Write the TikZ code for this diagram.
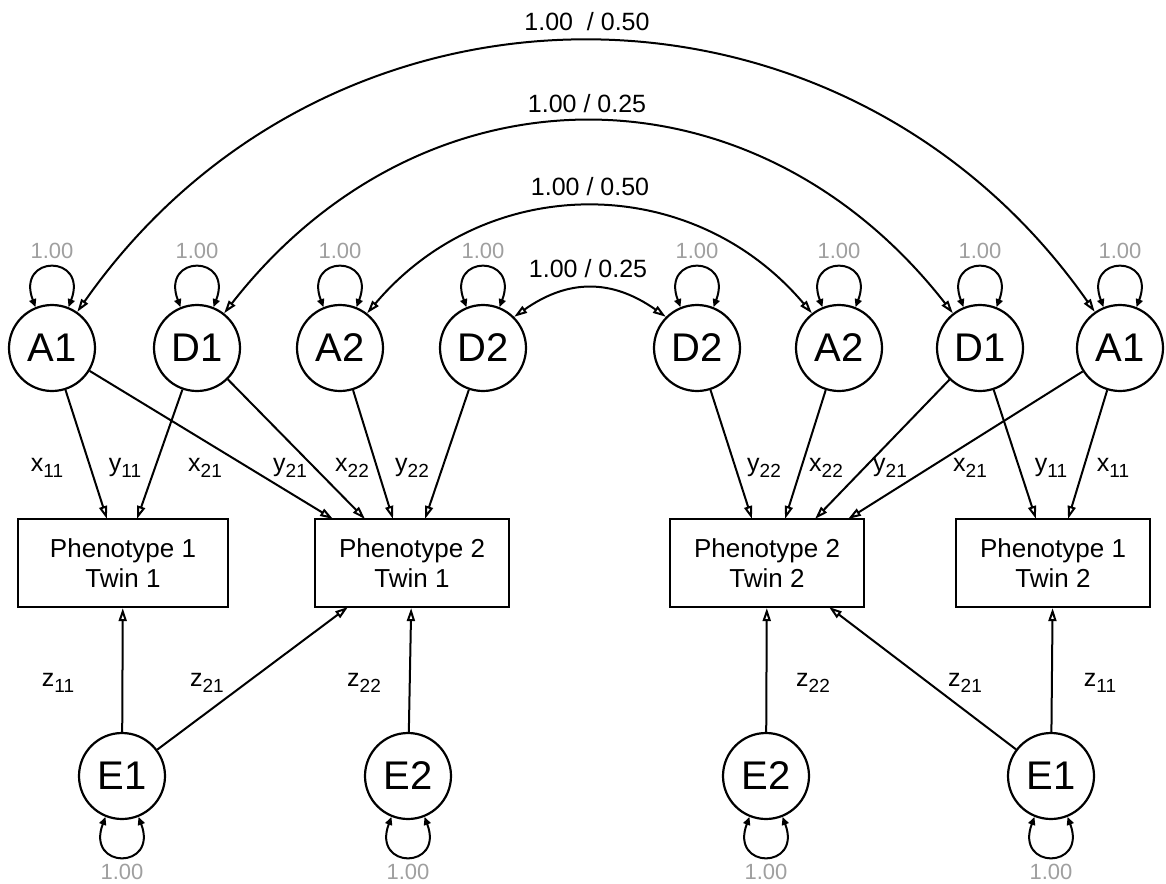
\documentclass[tikz,border=0pt]{standalone}
\usepackage{fontspec}
\setmainfont{Liberation Sans}
\usetikzlibrary{arrows.meta}
\newcommand{\lowidx}[1]{\raisebox{-3pt}{\fontsize{9.5}{11}\selectfont #1}}

\begin{document}
\begin{tikzpicture}[x=0.5pt,y=-0.5pt,
    latent/.style={circle,draw,line width=1.1pt,minimum size=43pt,inner sep=0pt,font=\fontsize{20}{22}\selectfont},
    pheno/.style={rectangle,draw,line width=1.1pt,minimum height=44pt,align=center,font=\fontsize{13}{15}\selectfont},
    load/.style={line width=1pt,-{Triangle[open,length=6.5pt,width=4pt]}},
    cov/.style={line width=1pt,{Triangle[open,length=6.5pt,width=4pt]}-{Triangle[open,length=6.5pt,width=4pt]}},
    selfvar/.style={line width=1pt,{Triangle[length=4pt,width=3.5pt]}-{Triangle[length=4pt,width=3.5pt]}},
    coef/.style={font=\fontsize{12.5}{14}\selectfont},
    varlab/.style={font=\fontsize{11}{12}\selectfont,text=gray!75}]
    \useasboundingbox (0,0) rectangle (1166,883);

    % Latent factors, twin 1 (left) and twin 2 (right)
    \node[latent] (A1l) at (52,348) {A1};
    \node[latent] (D1l) at (197,348) {D1};
    \node[latent] (A2l) at (340,348) {A2};
    \node[latent] (D2l) at (483,348) {D2};
    \node[latent] (D2r) at (697,348) {D2};
    \node[latent] (A2r) at (839,348) {A2};
    \node[latent] (D1r) at (980,348) {D1};
    \node[latent] (A1r) at (1120,348) {A1};
    \node[latent] (E1l) at (122,776) {E1};
    \node[latent] (E2l) at (408,776) {E2};
    \node[latent] (E2r) at (766,776) {E2};
    \node[latent] (E1r) at (1051,776) {E1};

    % Observed phenotypes
    \node[pheno,minimum width=105pt] (P1T1) at (123,563) {Phenotype 1\\Twin 1};
    \node[pheno,minimum width=97pt] (P2T1) at (412,563) {Phenotype 2\\Twin 1};
    \node[pheno,minimum width=97pt] (P2T2) at (767,563) {Phenotype 2\\Twin 2};
    \node[pheno,minimum width=97pt] (P1T2) at (1053,563) {Phenotype 1\\Twin 2};

    % Arrow ends on the boxes
    \coordinate (t11a) at (107,519);
    \coordinate (t11d) at (137,519);
    \coordinate (t21a) at (333,519);
    \coordinate (t21d) at (365,519);
    \coordinate (t22a) at (393,519);
    \coordinate (t22d) at (425,519);
    \coordinate (u22d) at (752,519);
    \coordinate (u22a) at (785,519);
    \coordinate (u21d) at (815,519);
    \coordinate (u21a) at (848,519);
    \coordinate (u11d) at (1036,519);
    \coordinate (u11a) at (1068,519);
    \coordinate (b21l) at (348,607);
    \coordinate (b21r) at (829,607);

    % Variances
    \foreach \f in {A1l,D1l,A2l,D2l,D2r,A2r,D1r,A1r}{
        \draw[selfvar] (\f.112) .. controls +(-20,-53) and +(20,-53) .. (\f.68);
    }
    \foreach \f in {E1l,E2l,E2r,E1r}{
        \draw[selfvar] (\f.248) .. controls +(-20,53) and +(20,53) .. (\f.292);
    }
    \node[varlab] (vA1l) at (52,251) {1.00};
    \node[varlab] (vD1l) at (197,251) {1.00};
    \node[varlab] (vA2l) at (340,251) {1.00};
    \node[varlab] (vD2l) at (483,251) {1.00};
    \node[varlab] (vD2r) at (697,251) {1.00};
    \node[varlab] (vA2r) at (839,251) {1.00};
    \node[varlab] (vD1r) at (980,251) {1.00};
    \node[varlab] (vA1r) at (1120,251) {1.00};
    \node[varlab] (vE1l) at (122,872) {1.00};
    \node[varlab] (vE2l) at (408,872) {1.00};
    \node[varlab] (vE2r) at (766,872) {1.00};
    \node[varlab] (vE1r) at (1051,872) {1.00};

    % Twin correlations
    \draw[cov] (A1l.55) .. controls +(252,-360) and +(-252,-360) .. (A1r.125);
    \draw[cov] (D1l.52) .. controls +(199,-255) and +(-199,-255) .. (D1r.128);
    \draw[cov] (A2l.52) .. controls +(120,-142) and +(-120,-142) .. (A2r.128);
    \draw[cov] (D2l.45) .. controls +(54,-38) and +(-54,-38) .. (D2r.135);
    \node[coef] (c1) at (587,22) {1.00\ \ / 0.50};
    \node[coef] (c2) at (587,104) {1.00 / 0.25};
    \node[coef] (c3) at (590,187) {1.00 / 0.50};
    \node[coef] (c4) at (588,269) {1.00 / 0.25};

    % Loadings
    \draw[load] (A1l) -- (t11a);
    \draw[load] (D1l) -- (t11d);
    \draw[load] (A1l) -- (t21a);
    \draw[load] (D1l) -- (t21d);
    \draw[load] (A2l) -- (t22a);
    \draw[load] (D2l) -- (t22d);
    \draw[load] (D2r) -- (u22d);
    \draw[load] (A2r) -- (u22a);
    \draw[load] (D1r) -- (u21d);
    \draw[load] (A1r) -- (u21a);
    \draw[load] (D1r) -- (u11d);
    \draw[load] (A1r) -- (u11a);
    \draw[load] (E1l) -- (P1T1);
    \draw[load] (E1l) -- (b21l);
    \draw[load] (E2l) -- (P2T1);
    \draw[load] (E2r) -- (P2T2);
    \draw[load] (E1r) -- (b21r);
    \draw[load] (E1r) -- (P1T2);

    \node[coef] (lx11) at (47,468) {x\lowidx{11}};
    \node[coef] (ly11) at (125,468) {y\lowidx{11}};
    \node[coef] (lx21) at (205,468) {x\lowidx{21}};
    \node[coef] (ly21) at (290,468) {y\lowidx{21}};
    \node[coef] (lx22) at (352,468) {x\lowidx{22}};
    \node[coef] (ly22) at (412,468) {y\lowidx{22}};
    \node[coef] (ry22) at (764,468) {y\lowidx{22}};
    \node[coef] (rx22) at (826,468) {x\lowidx{22}};
    \node[coef] (ry21) at (890,468) {y\lowidx{21}};
    \node[coef] (rx21) at (970,468) {x\lowidx{21}};
    \node[coef] (ry11) at (1051,468) {y\lowidx{11}};
    \node[coef] (rx11) at (1113,468) {x\lowidx{11}};
    \node[coef] (lz11) at (58,683) {z\lowidx{11}};
    \node[coef] (lz21) at (207,683) {z\lowidx{21}};
    \node[coef] (lz22) at (364,683) {z\lowidx{22}};
    \node[coef] (rz22) at (813,683) {z\lowidx{22}};
    \node[coef] (rz21) at (965,683) {z\lowidx{21}};
    \node[coef] (rz11) at (1100,683) {z\lowidx{11}};
\end{tikzpicture}
\end{document}
